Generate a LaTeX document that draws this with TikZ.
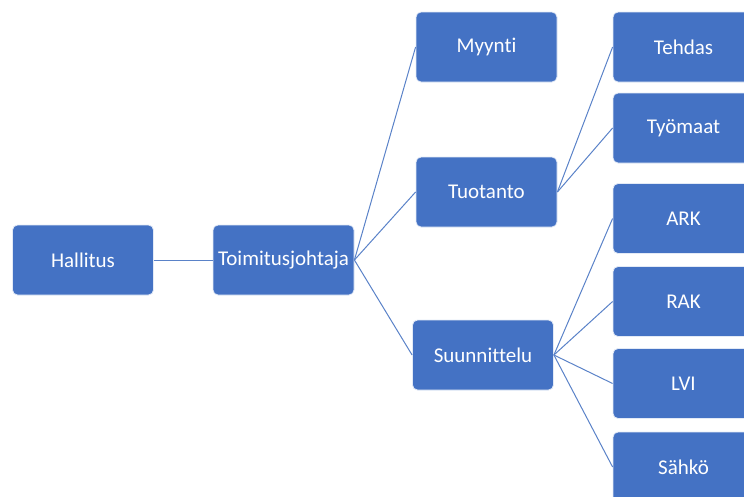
\documentclass[tikz,border=0pt]{standalone}
\usepackage{fontspec}
\setmainfont[Ligatures=NoCommon]{Carlito}
\definecolor{boxblue}{HTML}{4472C4}
\definecolor{lineblue}{HTML}{5A82C8}
\tikzset{
  orgbox/.style={rectangle, rounded corners=5pt, fill=boxblue, draw=white!85!boxblue,
    line width=0.8pt, text=white, minimum width=141pt, minimum height=70pt,
    inner sep=2pt, font=\fontsize{21}{24}\selectfont},
  link/.style={draw=lineblue, line width=1pt}
}
\begin{document}
\begin{tikzpicture}[x=1pt,y=-1pt]
\useasboundingbox (0,0) rectangle (744,496);
\clip (0,0) rectangle (744,496);
% tasot
\node[orgbox] (hallitus) at (83,260) {Hallitus};
\node[orgbox] (tj) at (283.5,260) {Toimitusjohtaja};
\node[orgbox] (myynti) at (486.5,47) {Myynti};
\node[orgbox] (tuotanto) at (486.5,192) {Tuotanto};
\node[orgbox] (suunn) at (483,355) {Suunnittelu};
\node[orgbox] (tehdas) at (683.5,47) {Tehdas};
\node[orgbox] (tyomaat) at (683.5,128) {Työmaat};
\node[orgbox] (ark) at (683.5,218.5) {ARK};
\node[orgbox] (rak) at (683.5,301.5) {RAK};
\node[orgbox] (lvi) at (683.5,383.5) {LVI};
\node[orgbox] (sahko) at (683.5,467) {Sähkö};
% viivat
\draw[link] (hallitus.east)--(tj.west);
\foreach \c in {myynti,tuotanto,suunn}
  \draw[link] (tj.east)--(\c.west);
\foreach \c in {tehdas,tyomaat}
  \draw[link] (tuotanto.east)--(\c.west);
\foreach \c in {ark,rak,lvi,sahko}
  \draw[link] (suunn.east)--(\c.west);
\end{tikzpicture}
\end{document}
